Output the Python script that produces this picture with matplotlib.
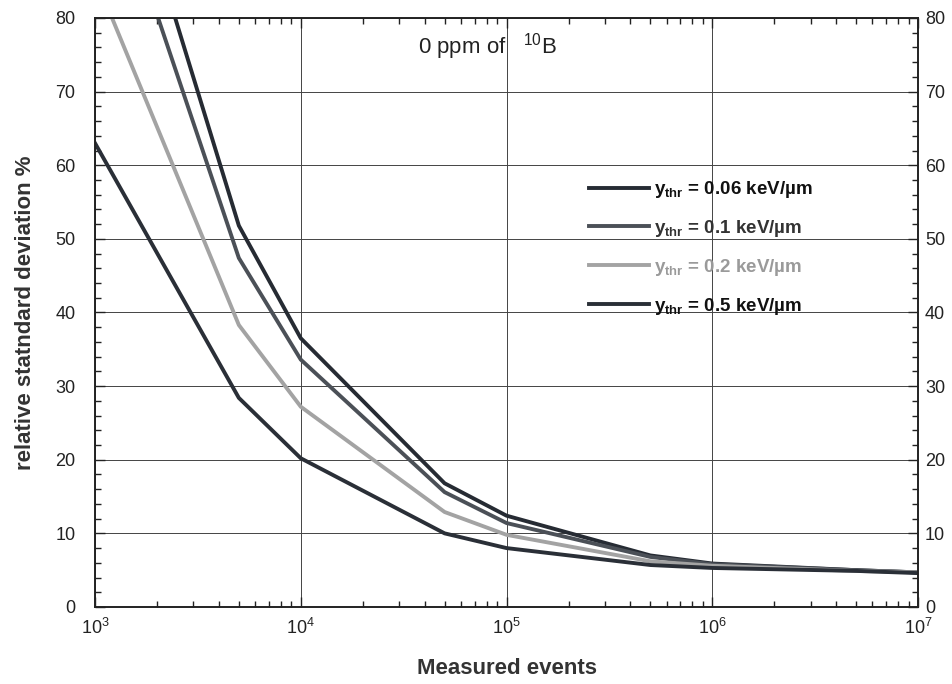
import numpy as np
import matplotlib
matplotlib.use('Agg')
import matplotlib.pyplot as plt
from matplotlib.ticker import LogLocator, MultipleLocator

plt.rcParams['font.family'] = ['Liberation Sans', 'DejaVu Sans']
plt.rcParams['mathtext.fontset'] = 'custom'
plt.rcParams['mathtext.rm'] = 'Liberation Sans'
plt.rcParams['mathtext.bf'] = 'Liberation Sans:bold'
plt.rcParams['mathtext.it'] = 'Liberation Sans:italic'
plt.rcParams['mathtext.default'] = 'regular'

# number of measured events
events = [1e3, 5e3, 1e4, 5e4, 1e5, 5e5, 1e6, 5e6, 1e7]

# relative standard deviation (%) for each threshold
rsd_006 = [115.5, 51.8, 36.5, 16.8, 12.4, 7.0, 5.9, 5.0, 4.7]
rsd_01 = [105.5, 47.4, 33.6, 15.6, 11.4, 6.8, 5.8, 5.0, 4.7]
rsd_02 = [85.6, 38.3, 27.2, 12.9, 9.8, 6.2, 5.6, 4.9, 4.7]
rsd_05 = [63.0, 28.4, 20.2, 10.0, 8.0, 5.7, 5.3, 4.9, 4.6]

labels = ['0.06', '0.1', '0.2', '0.5']
colors = ['#262b33', '#4b5057', '#a3a3a3', '#2a2f37']
text_colors = ['#111111', '#333333', '#9a9a9a', '#111111']

fig = plt.figure(figsize=(9.52, 6.84), dpi=100)
ax = fig.add_axes([0.0998, 0.1126, 0.8646, 0.8611])

handles = []
for y, lab, c in zip([rsd_006, rsd_01, rsd_02, rsd_05], labels, colors):
    h, = ax.plot(events, y, color=c, lw=2.8, solid_joinstyle='miter',
                 label=r'$\mathbf{y_{thr}}$' + ' = ' + lab + ' keV/µm')
    handles.append(h)

ax.set_xscale('log')
ax.set_xlim(1e3, 1e7)
ax.set_ylim(0, 80)
ax.yaxis.set_major_locator(MultipleLocator(10))
ax.yaxis.set_minor_locator(MultipleLocator(2))
ax.xaxis.set_minor_locator(LogLocator(base=10, subs=np.arange(2, 10)))

ax.grid(True, which='major', color='#444444', lw=0.7)
ax.tick_params(which='both', direction='in', top=True, right=True,
               labelsize=13, colors='#222222')
ax.tick_params(which='major', length=7, width=1)
ax.tick_params(which='minor', length=4, width=1)
ax.tick_params(axis='x', pad=8)
ax.tick_params(axis='y', pad=14)
for s in ax.spines.values():
    s.set_linewidth(1.4)
    s.set_color('#222222')

# right-hand copy of the y scale
ax_r = ax.twinx()
ax_r.set_ylim(ax.get_ylim())
ax_r.yaxis.set_major_locator(MultipleLocator(10))
ax_r.yaxis.set_minor_locator(MultipleLocator(2))
ax_r.tick_params(which='both', direction='in', labelsize=13, colors='#222222', pad=5)
ax_r.tick_params(which='major', length=7, width=1)
ax_r.tick_params(which='minor', length=4, width=1)
for s in ax_r.spines.values():
    s.set_visible(False)

ax.set_xlabel('Measured events', fontsize=16, fontweight='bold', labelpad=14,
              color='#333333')
ax.set_ylabel('relative statndard deviation %', fontsize=16, fontweight='bold',
              labelpad=14, color='#333333')

ax.text(0.392, 0.951, '0 ppm of   $^{10}$B', transform=ax.transAxes,
        fontsize=16, va='center', ha='left', color='#222222')

leg = ax.legend(handles=handles, loc='upper left', bbox_to_anchor=(0.58, 0.755),
                frameon=False, fontsize=13.5, handlelength=3.2,
                handletextpad=0.25, labelspacing=0.95)
for t, c in zip(leg.get_texts(), text_colors):
    t.set_color(c)
    t.set_fontweight('bold')

fig.savefig('out.png', dpi=100)
